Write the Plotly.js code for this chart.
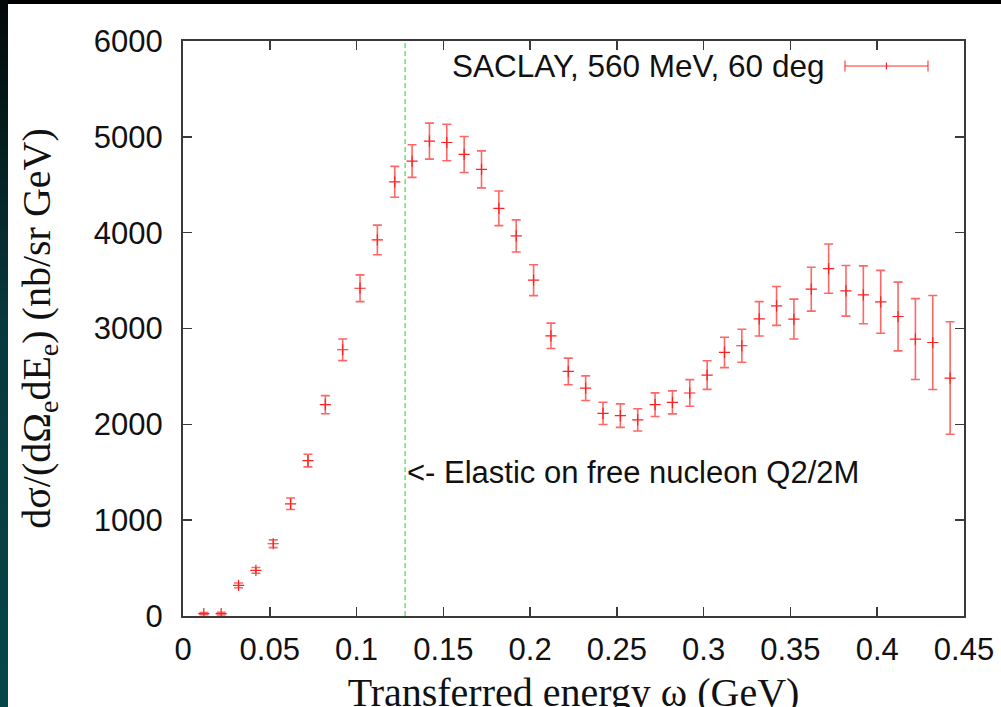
<!DOCTYPE html>
<html>
<head>
<meta charset="utf-8">
<script src="https://cdn.plot.ly/plotly-3.0.1.min.js"></script>
<style>
  html, body { margin: 0; padding: 0; background: #000; width: 1001px; height: 707px; overflow: hidden; }
  #strip { position: absolute; left: 0; top: 0; width: 8px; height: 707px;
           background: linear-gradient(to bottom, #030808 0%, #06393c 45%, #064649 100%); }
  #chart { position: absolute; left: 8px; top: 4px; width: 993px; height: 720px; }
</style>
</head>
<body>
<div id="strip"></div>
<div id="chart"></div>
<script>
// Transferred energy omega (GeV)
const omega = [0.012,0.022,0.032,0.042,0.052,0.062,0.072,0.082,0.092,0.102,0.112,
               0.122,0.132,0.142,0.152,0.162,0.172,0.182,0.192,0.202,0.212,0.222,
               0.232,0.242,0.252,0.262,0.272,0.282,0.292,0.302,0.312,0.322,0.332,
               0.342,0.352,0.362,0.372,0.382,0.392,0.402,0.412,0.422,0.432,0.442];
// Cross section d sigma/(dOmega_e dE_e) (nb/sr GeV)
const xsec = [25,25,320,476,754,1171,1622,2205,2778,3420,3924,
              4531,4747,4955,4941,4816,4660,4254,3966,3504,2924,2552,
              2377,2115,2091,2046,2205,2229,2327,2514,2750,2820,3101,
              3236,3098,3410,3625,3393,3351,3278,3125,2890,2854,2483];
const xsecErr = [12,14,25,30,40,60,66,95,113,140,155,
                 161,170,188,191,188,193,181,168,161,132,139,
                 129,116,123,116,123,120,139,149,158,172,179,
                 203,208,229,257,264,302,328,359,422,490,587];
const seriesName = 'SACLAY, 560 MeV, 60 deg';
const elasticOmega = 0.128;
const elasticLabel = '<- Elastic on free nucleon Q2/2M';
const xTicks = [0,0.05,0.1,0.15,0.2,0.25,0.3,0.35,0.4,0.45];
const yTicks = [0,1000,2000,3000,4000,5000,6000];

const red = 'rgba(255,0,0,0.6)';
const trace = {
  x: omega, y: xsec, type: 'scatter', mode: 'markers', name: seriesName,
  marker: { symbol: 'cross-thin', size: 8, color: '#ff0000', line: { color: '#ff2020', width: 1.2 } },
  error_y: { type: 'data', array: xsecErr, visible: true, color: red, thickness: 1.6, width: 4.5 },
  showlegend: false, hoverinfo: 'x+y'
};

const axisCommon = {
  showgrid: false, zeroline: false, showline: true, linecolor: '#3a3a3a', linewidth: 2,
  mirror: 'ticks', ticks: 'inside', ticklen: 9, tickwidth: 1.5, tickcolor: '#3a3a3a',
  tickfont: { family: 'Liberation Sans, Arial, sans-serif', size: 31, color: '#111' }
};

// legend sample position (paper coords)
const lgY = 0.9565, lgX0 = 0.8476, lgX1 = 0.9539, lgXc = 0.9007, cap = 0.0095, crs = 0.006;
const lgLine = { color: 'rgba(255,0,0,0.55)', width: 1.6 };

const layout = {
  width: 993, height: 720,
  paper_bgcolor: '#ffffff', plot_bgcolor: '#ffffff',
  margin: { l: 175, r: 37, t: 37, b: 108 },
  xaxis: Object.assign({}, axisCommon, {
    range: [0, 0.45], tickvals: xTicks, ticktext: xTicks.map(String), ticklabelstandoff: 5,
    title: { text: 'Transferred energy ω (GeV)', standoff: 12,
             font: { family: 'Liberation Serif, Times New Roman, serif', size: 40, color: '#111' } }
  }),
  yaxis: Object.assign({}, axisCommon, {
    range: [0, 6000], tickvals: yTicks, ticktext: yTicks.map(String), ticklabelstandoff: 12,
    title: { text: 'dσ/(dΩ<sub>e</sub>dE<sub>e</sub>) (nb/sr GeV)', standoff: 31,
             font: { family: 'Liberation Serif, Times New Roman, serif', size: 40, color: '#111' } }
  }),
  shapes: [
    { type: 'line', xref: 'x', yref: 'paper', x0: elasticOmega, x1: elasticOmega, y0: 0, y1: 1,
      line: { color: '#4ae84a', width: 1.3, dash: '5px,3px' } },
    { type: 'line', xref: 'paper', yref: 'paper', x0: lgX0, x1: lgX1, y0: lgY, y1: lgY, line: lgLine },
    { type: 'line', xref: 'paper', yref: 'paper', x0: lgX0, x1: lgX0, y0: lgY - cap, y1: lgY + cap, line: lgLine },
    { type: 'line', xref: 'paper', yref: 'paper', x0: lgX1, x1: lgX1, y0: lgY - cap, y1: lgY + cap, line: lgLine },
    { type: 'line', xref: 'paper', yref: 'paper', x0: lgXc, x1: lgXc, y0: lgY - crs, y1: lgY + crs, line: { color: '#ff2020', width: 1.2 } }
  ],
  annotations: [
    { x: 0.8233, y: lgY, xref: 'paper', yref: 'paper', xanchor: 'right', yanchor: 'middle',
      text: seriesName, showarrow: false,
      font: { family: 'Liberation Sans, Arial, sans-serif', size: 31.5, color: '#111' } },
    { x: elasticOmega, y: 1500, xref: 'x', yref: 'y', xanchor: 'left', yanchor: 'middle', xshift: 0,
      text: elasticLabel, showarrow: false,
      font: { family: 'Liberation Sans, Arial, sans-serif', size: 31, color: '#111' } }
  ]
};

Plotly.newPlot('chart', [trace], layout, { staticPlot: true, displayModeBar: false });
</script>
</body>
</html>
